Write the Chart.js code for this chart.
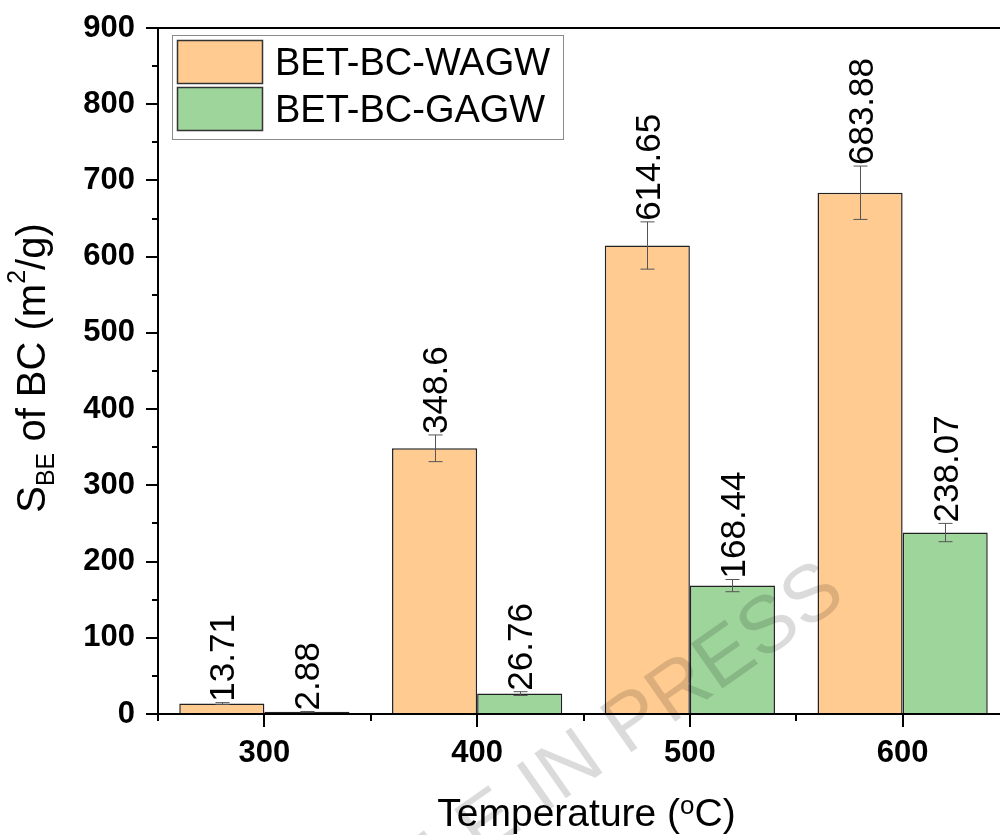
<!DOCTYPE html>
<html>
<head>
<meta charset="utf-8">
<title>BET surface area of biochar</title>
<script src="https://cdn.jsdelivr.net/npm/chart.js@4.4.1/dist/chart.umd.min.js"></script>
<style>
  html, body { margin: 0; padding: 0; background: #fff; overflow: hidden; }
  #wrap { width: 1012px; height: 835px; }
</style>
</head>
<body>
<div id="wrap"><canvas id="chartBet" width="1012" height="835"></canvas></div>
<script>
// pyrolysis temperatures (°C)
const temperatures = ["300", "400", "500", "600"];

// BET surface area (m2/g) and standard deviation
const wagwArea = [13.71, 348.6, 614.65, 683.88];
const wagwErr = [1.2, 17.5, 31, 35];
const gagwArea = [2.88, 26.76, 168.44, 238.07];
const gagwErr = [0.4, 2.5, 8, 12];

const seriesNames = ["BET-BC-WAGW", "BET-BC-GAGW"];
const seriesColors = ["#FFCB91", "#9DD59B"];

const yMin = 0;
const yMax = 900;
const yStep = 100;
const yMinorStep = 50;

const FONT = '"Liberation Sans", Arial, Helvetica, sans-serif';

// draws a line of text made of pieces, some of them sub/superscripted
function drawRich(ctx, pieces, x, y, angle) {
  ctx.save();
  ctx.translate(x, y);
  ctx.rotate(angle);
  ctx.fillStyle = "#000";
  ctx.textBaseline = "alphabetic";
  ctx.textAlign = "left";
  let total = 0;
  pieces.forEach(p => {
    ctx.font = `${p.size}px ${FONT}`;
    p.w = ctx.measureText(p.t).width;
    total += p.w;
  });
  let cx = -total / 2;
  pieces.forEach(p => {
    ctx.font = `${p.size}px ${FONT}`;
    ctx.fillText(p.t, cx, p.dy || 0);
    cx += p.w;
  });
  ctx.restore();
}

// no extra room around the axes, the frame sits on the layout padding
function tightBox(s) {
  s.paddingTop = 0;
  s.paddingBottom = 0;
  s.paddingLeft = 0;
  s.paddingRight = 0;
}

const errorBars = {
  id: "errorBars",
  afterDatasetsDraw(chart) {
    const ctx = chart.ctx;
    const ys = chart.scales.y;
    chart.data.datasets.forEach((ds, i) => {
      const meta = chart.getDatasetMeta(i);
      meta.data.forEach((bar, j) => {
        const v = ds.data[j];
        const e = ds.errors[j];
        const x = Math.round(bar.x) + 0.5;
        const top = ys.getPixelForValue(v + e);
        const bot = ys.getPixelForValue(v - e);

        ctx.save();
        if (e > 0) {
          ctx.strokeStyle = "#555";
          ctx.lineWidth = 1;
          ctx.beginPath();
          ctx.moveTo(x, top);
          ctx.lineTo(x, bot);
          ctx.moveTo(x - 7, top);
          ctx.lineTo(x + 7, top);
          ctx.moveTo(x - 7, bot);
          ctx.lineTo(x + 7, bot);
          ctx.stroke();
        }

        // value written upward above the error bar
        ctx.translate(bar.x, Math.min(top, bar.y) - 1);
        ctx.rotate(-Math.PI / 2);
        ctx.font = `35px ${FONT}`;
        ctx.fillStyle = "#000";
        ctx.textAlign = "left";
        ctx.textBaseline = "alphabetic";
        ctx.fillText(String(v), 0, 12.5);
        ctx.restore();
      });
    });
  }
};

const frameAndLabels = {
  id: "frameAndLabels",
  afterDraw(chart) {
    const ctx = chart.ctx;
    const { left, right, top, bottom } = chart.chartArea;
    const xs = chart.scales.x;
    const ys = chart.scales.y;

    ctx.save();
    ctx.strokeStyle = "#000";
    ctx.lineWidth = 2;
    ctx.strokeRect(left, top, right - left, bottom - top);

    // y ticks, major and minor, pointing out
    ctx.beginPath();
    for (let v = yMin; v <= yMax; v += yMinorStep) {
      const py = Math.round(ys.getPixelForValue(v));
      const len = v % yStep === 0 ? 12 : 6;
      ctx.moveTo(left - len, py);
      ctx.lineTo(left, py);
    }
    // x ticks at categories, minor between them
    for (let k = 0; k < temperatures.length; k++) {
      const px = Math.round(xs.getPixelForValue(k));
      ctx.moveTo(px, bottom);
      ctx.lineTo(px, bottom + 13);
    }
    for (let k = -0.5; k <= temperatures.length - 0.5; k += 1) {
      const px = Math.round(xs.getPixelForValue(k));
      ctx.moveTo(px, bottom);
      ctx.lineTo(px, bottom + 7);
    }
    ctx.stroke();
    ctx.restore();

    // legend box
    ctx.save();
    ctx.strokeStyle = "#8a8a8a";
    ctx.lineWidth = 1;
    ctx.strokeRect(172.5, 35.5, 391, 104);
    chart.data.datasets.forEach((ds, i) => {
      const sy = 40 + i * 47;
      ctx.fillStyle = ds.backgroundColor;
      ctx.fillRect(177, sy, 86, 44);
      ctx.strokeStyle = "#333";
      ctx.lineWidth = 1.5;
      ctx.strokeRect(177.5, sy + 0.5, 85, 43);
      ctx.fillStyle = "#000";
      ctx.font = `38px ${FONT}`;
      ctx.textBaseline = "alphabetic";
      ctx.textAlign = "left";
      ctx.fillText(ds.label, 275, sy + 35);
    });
    ctx.restore();

    // axis titles
    drawRich(ctx, [
      { t: "S", size: 40 },
      { t: "BE", size: 25, dy: 9 },
      { t: " of BC (m", size: 40 },
      { t: "2", size: 25, dy: -20 },
      { t: "/g)", size: 40 }
    ], 45, (top + bottom) / 2 - 3, -Math.PI / 2);

    drawRich(ctx, [
      { t: "Temperature (", size: 39 },
      { t: "o", size: 26, dy: -12 },
      { t: "C)", size: 39 }
    ], (left + right) / 2 + 3, 826, 0);

    // faint page watermark
    ctx.save();
    ctx.translate(626, 756);
    ctx.rotate(-35 * Math.PI / 180);
    ctx.font = `80px ${FONT}`;
    ctx.fillStyle = "rgba(0,0,0,0.14)";
    ctx.textBaseline = "alphabetic";
    ctx.textAlign = "left";
    const lead = ctx.measureText("ARTICLE IN ").width;
    ctx.fillText("ARTICLE IN PRESS", -lead, 0);
    ctx.restore();
  }
};

new Chart(document.getElementById("chartBet"), {
  type: "bar",
  data: {
    labels: temperatures,
    datasets: [
      {
        label: seriesNames[0],
        data: wagwArea,
        errors: wagwErr,
        backgroundColor: seriesColors[0],
        borderColor: "#222",
        borderWidth: 1.5,
        categoryPercentage: 0.8,
        barPercentage: 1.0
      },
      {
        label: seriesNames[1],
        data: gagwArea,
        errors: gagwErr,
        backgroundColor: seriesColors[1],
        borderColor: "#222",
        borderWidth: 1.5,
        categoryPercentage: 0.8,
        barPercentage: 1.0
      }
    ]
  },
  options: {
    responsive: false,
    animation: false,
    layout: { padding: { top: 28, right: 3, left: 0, bottom: 0 } },
    plugins: {
      legend: { display: false },
      tooltip: { enabled: false }
    },
    scales: {
      x: {
        offset: true,
        grid: { display: false, drawTicks: false },
        border: { display: false },
        ticks: {
          color: "#000",
          padding: 21,
          font: { family: FONT, size: 31, weight: "bold" }
        },
        afterFit: (s) => { s.height = 121; tightBox(s); }
      },
      y: {
        min: yMin,
        max: yMax,
        grid: { display: false, drawTicks: false },
        border: { display: false },
        ticks: {
          stepSize: yStep,
          color: "#000",
          padding: 23,
          font: { family: FONT, size: 31, weight: "bold" }
        },
        afterFit: (s) => { s.width = 158; tightBox(s); }
      }
    }
  },
  plugins: [errorBars, frameAndLabels]
});
</script>
</body>
</html>
